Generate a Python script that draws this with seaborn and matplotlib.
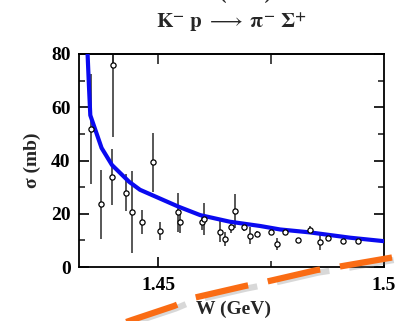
import numpy as np
import pandas as pd
import matplotlib
matplotlib.use("Agg")
import matplotlib.pyplot as plt
from matplotlib.lines import Line2D
import matplotlib.patheffects as pe
import seaborn as sns

# ---- data ----
w_data = [1.4351, 1.4373, 1.4398, 1.4400, 1.4429, 1.4442, 1.4464, 1.4489, 1.4504,
          1.4544, 1.4549, 1.4597, 1.4602, 1.4636, 1.4649, 1.4662, 1.4671, 1.4690,
          1.4704, 1.4720, 1.4749, 1.4764, 1.4780, 1.4810, 1.4836, 1.4858, 1.4875,
          1.4910, 1.4943]
sigma_data = [51.8, 23.5, 33.8, 75.8, 27.9, 20.7, 17.0, 39.3, 13.5,
              20.5, 16.9, 16.9, 18.0, 13.3, 10.5, 14.9, 21.1, 14.9,
              11.8, 12.4, 13.3, 8.6, 13.0, 10.0, 13.9, 9.3, 10.8,
              9.9, 9.9]
sigma_err = [20.7, 13.0, 10.7, 27.0, 7.0, 15.5, 4.5, 11.0, 3.4,
             7.4, 4.0, 3.0, 6.0, 4.0, 2.5, 2.0, 6.4, 1.5,
             3.3, 1.0, 1.0, 2.3, 1.0, 0.8, 1.5, 2.8, 1.0,
             0.8, 0.8]

w_curve = [1.4339, 1.4344, 1.4347, 1.4350, 1.4375, 1.4398, 1.4436, 1.4460,
           1.4546, 1.4593, 1.4659, 1.4726, 1.4770, 1.4836, 1.4925, 1.5000]
sigma_curve = [90.0, 80.0, 68.0, 57.0, 44.7, 38.3, 32.0, 29.0,
               22.6, 19.5, 17.0, 15.4, 14.1, 13.0, 11.0, 9.7]

y_ticks = [0, 20, 40, 60, 80]
x_ticks = [1.45, 1.5]
x_tick_labels = ["1.45", "1.5"]

df_pts = pd.DataFrame({"W": w_data, "sigma": sigma_data, "err": sigma_err})
df_curve = pd.DataFrame({"W": w_curve, "sigma": sigma_curve})

# ---- style ----
sns.set_style("ticks")
plt.rcParams["font.family"] = ["Liberation Serif", "DejaVu Serif"]
plt.rcParams["mathtext.fontset"] = "stix"

fig = plt.figure(figsize=(4.01, 3.21), dpi=100)
ax = fig.add_axes([79 / 401, 1 - 267 / 321, 305 / 401, 213 / 321])

ax.errorbar(df_pts["W"], df_pts["sigma"], yerr=df_pts["err"], fmt="none",
            ecolor="#2a2a2a", elinewidth=1.1, capsize=0, zorder=2)
sns.lineplot(data=df_curve, x="W", y="sigma", ax=ax, color="#0a0af0",
             linewidth=3.0, zorder=3, sort=False)
sns.scatterplot(data=df_pts, x="W", y="sigma", ax=ax, marker="o", s=14,
                facecolor="white", edgecolor="black", linewidth=0.9, zorder=4)

ax.set_xlim(1.4325, 1.5)
ax.set_ylim(0, 80)
ax.set_yticks(y_ticks)
ax.set_yticks([10, 30, 50, 70], minor=True)
ax.set_xticks(x_ticks)
ax.set_xticklabels(x_tick_labels)
ax.set_xticks([1.475], minor=True)

for s in ax.spines.values():
    s.set_visible(True)
    s.set_linewidth(1.3)
    s.set_color("black")

ax.tick_params(axis="both", which="major", direction="in", length=7, width=1.2,
               labelsize=14, right=True, colors="black")
ax.tick_params(axis="both", which="minor", direction="in", length=4.5, width=1.2,
               right=True)
ax.tick_params(axis="x", which="major", pad=7)
ax.tick_params(axis="y", which="major", pad=6)
for lab in ax.get_xticklabels() + ax.get_yticklabels():
    lab.set_fontweight("bold")

# top ticks
top = ax.secondary_xaxis("top")
top.set_xticks([1.44, 1.45, 1.475])
top.set_xticklabels([])
top.tick_params(direction="in", length=7, width=1.2)
top.spines["top"].set_linewidth(1.3)

ax.set_xlabel("W (GeV)", fontsize=14, fontweight="bold")
ax.set_ylabel("σ (mb)", fontsize=14, fontweight="bold")
ax.xaxis.set_label_coords(0.505, -0.16)
ax.yaxis.set_label_coords(-0.125, 0.5)
ax.xaxis.label.set_va("top")

fig.text(231 / 401, 1 - 22 / 321,
         r"$\mathbf{K}^{\mathbf{-}}\ \mathbf{p}\ \longrightarrow\ \mathbf{\pi}^{\mathbf{-}}\ \mathbf{\Sigma}^{\mathbf{+}}$",
         ha="center", va="center", fontsize=15)
fig.text(245 / 401, 1 + 1 / 321, "(1405)", ha="center", va="baseline",
         fontsize=14, fontweight="bold")

# orange dashed overlay stroke
px = np.array([122, 132, 174, 193, 245, 265, 317, 337, 392])
py = np.array([323.5, 320, 306, 298, 286, 282, 270, 267, 257.5])
line = Line2D(px / 401, 1 - py / 321, transform=fig.transFigure,
              color="#fa6c14", linewidth=4.5, solid_capstyle="butt",
              dash_capstyle="butt", dashes=(8.6, 3.2), zorder=10,
              path_effects=[pe.SimpleLineShadow(offset=(1.2, -1.8), shadow_color="gray",
                                                alpha=0.3), pe.Normal()])
fig.add_artist(line)

fig.savefig("out.png", dpi=100)
